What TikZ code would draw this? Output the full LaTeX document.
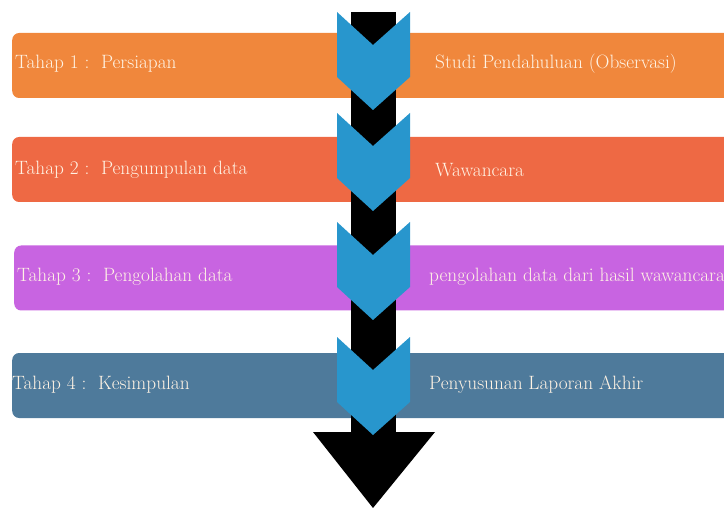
\documentclass[tikz,border=0pt]{standalone}
\usepackage{tikz}
\usetikzlibrary{calc}
\definecolor{oranye}{HTML}{F0873C}
\definecolor{merah}{HTML}{EE6944}
\definecolor{ungu}{HTML}{C864E1}
\definecolor{biru}{HTML}{4E7A9B}
\definecolor{chevblue}{HTML}{2896CD}
\definecolor{teks}{HTML}{FFF3E4}
\tikzset{
  bar/.style={rounded corners=7pt, minimum height=65pt, minimum width=760pt, inner sep=0pt, anchor=west},
  shaft/.style={fill=black},
  chev/.style={fill=chevblue},
  lab/.style={text=teks, font=\fontsize{19.3}{22}\selectfont, anchor=west, inner sep=0pt},
}
\begin{document}
\begin{tikzpicture}[x=1pt,y=-1pt]
  \useasboundingbox (0,0) rectangle (724,508);
  \clip (0,0) rectangle (724,508);
  % bars
  \foreach \i/\yc/\col/\bx in {1/65.5/oranye/12,2/169.5/merah/12,3/278/ungu/14,4/385.5/biru/12}
    \node[bar,fill=\col] (bar\i) at (\bx,\yc) {};
  % arrow
  \fill[shaft] (351,12) rectangle (396,433);
  \fill[shaft] (313,432) -- (435,432) -- (373,508) -- cycle;
  \foreach \t in {12,113,222,337}
    \fill[chev] (337,\t) -- (373,\t+33) -- (410,\t) -- (410,\t+65) -- (373,\t+98) -- (337,\t+65) -- cycle;
  % labels
  \foreach \i/\yc/\lx/\lt/\rx/\rt in {
      1/64/15/Persiapan/435/Studi Pendahuluan (Observasi),
      2/170/15/Pengumpulan data/435/Wawancara,
      3/277/17/Pengolahan data/429/pengolahan data dari hasil wawancara,
      4/385/12/Kesimpulan/429/Penyusunan Laporan Akhir}
  {
    \node[lab] (tahap\i) at (\lx,\yc) {Tahap \i\ :\ \ \lt};
    \node[lab] (isi\i) at (\rx,\yc) {\rt};
  }
\end{tikzpicture}
\end{document}
